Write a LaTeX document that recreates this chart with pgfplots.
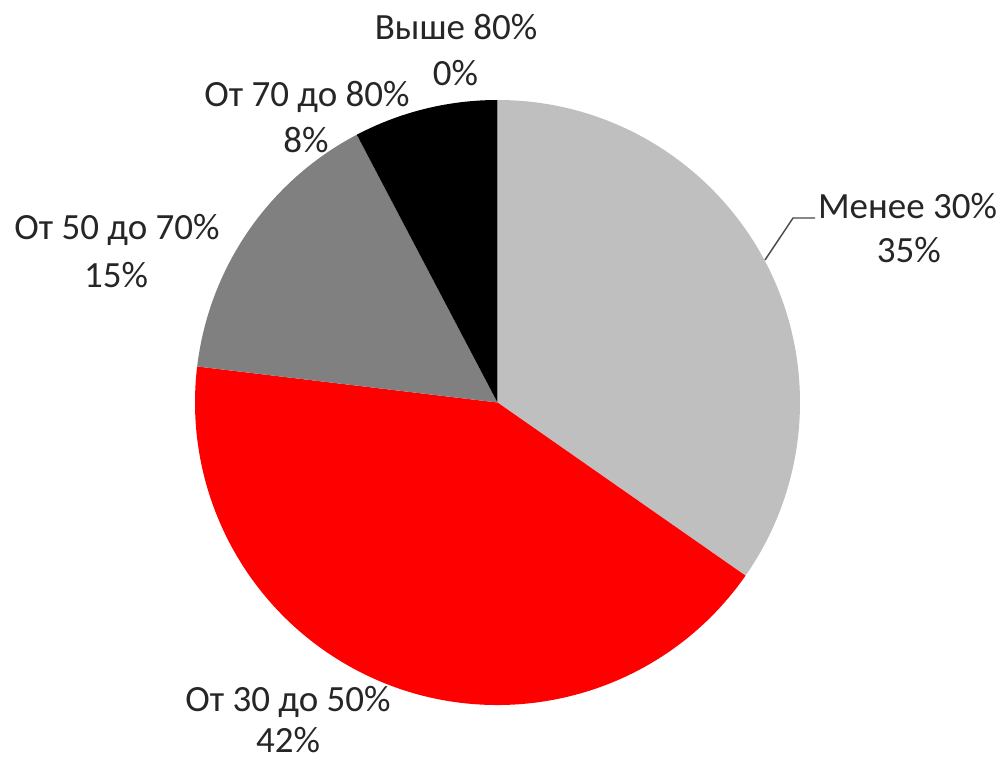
\documentclass[border=0pt]{standalone}
\usepackage{fontspec}
\setmainfont{Carlito}
\usepackage{pgfplots}
\usepackage{pgfplotstable}
\pgfplotsset{compat=1.18}
\definecolor{sliceA}{HTML}{BFBFBF}
\definecolor{sliceB}{HTML}{FF0000}
\definecolor{sliceC}{HTML}{808080}
\definecolor{sliceD}{HTML}{000000}
\definecolor{labeltext}{HTML}{262626}
\newcommand\lblfont{\fontsize{18.5}{23}\selectfont}
\tikzset{lbl/.style={font=\lblfont, text=labeltext, anchor=base, inner sep=0pt}}

% share of each slice (%), clockwise from 12 o'clock
\pgfplotstableread{
value
34.7
42.2
15.4
7.7
0
}\piedata

\begin{document}
\pgfplotstablegetelem{0}{value}\of\piedata\pgfmathsetmacro\vA{\pgfplotsretval}%
\pgfplotstablegetelem{1}{value}\of\piedata\pgfmathsetmacro\vB{\pgfplotsretval}%
\pgfplotstablegetelem{2}{value}\of\piedata\pgfmathsetmacro\vC{\pgfplotsretval}%
\pgfplotstablegetelem{3}{value}\of\piedata\pgfmathsetmacro\vD{\pgfplotsretval}%
\pgfmathsetmacro\aO{90}%
\pgfmathsetmacro\aA{\aO-3.6*\vA}%
\pgfmathsetmacro\aB{\aA-3.6*\vB}%
\pgfmathsetmacro\aC{\aB-3.6*\vC}%
\pgfmathsetmacro\aD{\aC-3.6*\vD}%
\begin{tikzpicture}
\begin{axis}[
  x=151.25pt, y=151.25pt,
  xmin=-1.6446, xmax=1.6810, ymin=-1.1818, ymax=1.3306,
  hide axis, clip=false,
]
\fill[sliceA] (axis cs:0,0) -- (axis cs:{cos(\aO)},{sin(\aO)}) arc[start angle=\aO, end angle=\aA, radius=151.25pt] -- cycle;
\fill[sliceB] (axis cs:0,0) -- (axis cs:{cos(\aA)},{sin(\aA)}) arc[start angle=\aA, end angle=\aB, radius=151.25pt] -- cycle;
\fill[sliceC] (axis cs:0,0) -- (axis cs:{cos(\aB)},{sin(\aB)}) arc[start angle=\aB, end angle=\aC, radius=151.25pt] -- cycle;
\fill[sliceD] (axis cs:0,0) -- (axis cs:{cos(\aC)},{sin(\aC)}) arc[start angle=\aC, end angle=\aD, radius=151.25pt] -- cycle;

\draw[labeltext!85, line width=0.7pt] (axis cs:0.8843,0.4711) -- (axis cs:0.9769,0.6099) -- (axis cs:1.0496,0.6099);

\node[lbl] at (axis cs:1.3554,0.6099) {Менее 30\%};
\node[lbl] at (axis cs:1.3600,0.4612) {35\%};
\node[lbl] at (axis cs:-0.6926,-1.0231) {От 30 до 50\%};
\node[lbl] at (axis cs:-0.6926,-1.1560) {42\%};
\node[lbl] at (axis cs:-1.2579,0.5372) {От 50 до 70\%};
\node[lbl] at (axis cs:-1.2612,0.3818) {15\%};
\node[lbl] at (axis cs:-0.6298,0.9769) {От 70 до 80\%};
\node[lbl] at (axis cs:-0.6330,0.8248) {8\%};
\node[lbl] at (axis cs:-0.1372,1.2000) {Выше 80\%};
\node[lbl] at (axis cs:-0.1390,1.0463) {0\%};

\coordinate (bbSW) at (axis cs:-1.6446,-1.1818);
\coordinate (bbNE) at (axis cs:1.6810,1.3306);
\end{axis}
\pgfresetboundingbox
\path[use as bounding box] (bbSW) rectangle (bbNE);
\end{tikzpicture}
\end{document}
